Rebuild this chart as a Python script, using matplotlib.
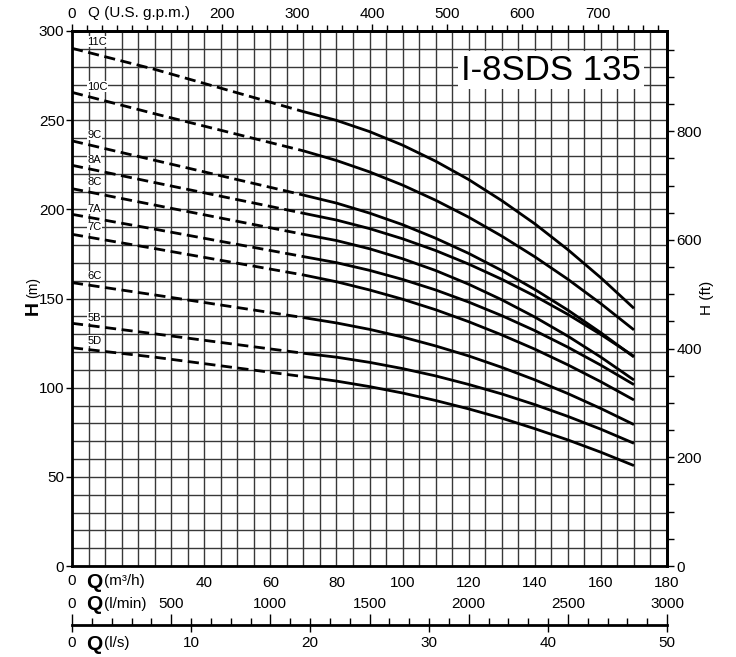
import numpy as np
import matplotlib
matplotlib.use("Agg")
import matplotlib.pyplot as plt
from matplotlib.ticker import MultipleLocator, NullFormatter
from matplotlib.transforms import blended_transform_factory

plt.rcParams['font.family'] = ['Liberation Sans', 'DejaVu Sans']

# ---------------- data ----------------
title = "I-8SDS 135"
models = ["11C", "10C", "9C", "8A", "8C", "7A", "7C", "6C", "5B", "5D"]
q_points = [0, 25, 70, 80, 90, 100, 110, 120, 130, 140, 150, 160, 170]   # m3/h
n_dashed = 3                                           # first points (0..70) drawn dashed
h_11C = [290.3, 278.5, 254.8, 249.9, 243.6, 236.0, 227.0, 216.7, 204.9, 191.9, 177.4, 161.6, 144.5]
h_10C = [265.6, 253.6, 232.8, 227.4, 221.0, 213.6, 205.1, 195.6, 185.0, 173.4, 160.8, 147.1, 132.4]
h_9C  = [238.4, 227.5, 208.0, 203.5, 197.9, 191.4, 183.8, 175.3, 165.7, 155.1, 143.5, 130.8, 117.2]
h_8A  = [224.7, 215.0, 197.8, 194.0, 189.2, 183.5, 176.9, 169.3, 160.8, 151.4, 141.1, 129.8, 117.6]
h_8C  = [211.6, 202.4, 186.0, 182.5, 177.9, 172.3, 165.7, 158.0, 149.3, 139.6, 128.9, 117.1, 104.3]
h_7A  = [197.2, 188.9, 173.5, 170.1, 165.8, 160.7, 154.8, 148.0, 140.4, 132.0, 122.7, 112.6, 101.7]
h_7C  = [186.0, 178.0, 163.2, 159.4, 154.8, 149.6, 143.7, 137.0, 129.6, 121.6, 112.8, 103.3, 93.1]
h_6C  = [158.9, 152.0, 139.3, 136.3, 132.7, 128.4, 123.4, 117.8, 111.4, 104.4, 96.7, 88.3, 79.3]
h_5B  = [136.1, 130.2, 119.3, 117.1, 114.2, 110.7, 106.6, 101.8, 96.5, 90.5, 83.9, 76.7, 68.8]
h_5D  = [122.4, 117.1, 106.2, 103.7, 100.6, 97.0, 92.8, 88.1, 82.9, 77.0, 70.7, 63.8, 56.3]
heads = [h_11C, h_10C, h_9C, h_8A, h_8C, h_7A, h_7C, h_6C, h_5B, h_5D]
label_q = 4.6
label_h = [294.1, 268.8, 241.7, 227.7, 215.3, 200.2, 189.9, 162.6, 139.3, 126.3]

m3h_ticks = [0, 20, 40, 60, 80, 100, 120, 140, 160, 180]
m3h_labels = ["", "", "40", "60", "80", "100", "120", "140", "160", "180"]
h_ticks = [0, 50, 100, 150, 200, 250, 300]
ft_ticks = [0, 200, 400, 600, 800]
gpm_ticks = [0, 200, 300, 400, 500, 600, 700]
lpm_labels = [500, 1000, 1500, 2000, 2500, 3000]
ls_ticks = [0, 10, 20, 30, 40, 50]

GPM = 0.2271247   # m3/h per US gpm
FT = 3.28084

W, H = 736, 657
fig = plt.figure(figsize=(W / 100, H / 100), dpi=100)

def fx(px):
    return px / W

def fy(py):
    return 1 - py / H

x0, x1, y0, y1 = 72, 667, 566, 31
ax = fig.add_axes([fx(x0), fy(y0), fx(x1) - fx(x0), fy(y1) - fy(y0)])
ax.set_xlim(0, 180)
ax.set_ylim(0, 300)

# grid
ax.xaxis.set_minor_locator(MultipleLocator(5))
ax.yaxis.set_minor_locator(MultipleLocator(10))
ax.set_xticks(m3h_ticks)
ax.set_xticklabels(m3h_labels)
ax.set_yticks(h_ticks)
ax.grid(which='both', color='0.22', lw=1.0)
ax.set_axisbelow(True)
ax.tick_params(axis='x', which='both', length=0, pad=7, labelsize=11)
ax.tick_params(axis='y', which='major', length=4, width=1, direction='out', pad=1.5, labelsize=11)
ax.tick_params(axis='y', which='minor', length=0)
for s in ax.spines.values():
    s.set_linewidth(2.0)
    s.set_color('black')

# curves
for name, h in zip(models, heads):
    ax.plot(q_points[:n_dashed], h[:n_dashed], color='black', lw=2.0,
            dashes=(4.0, 2.0), solid_capstyle='butt', zorder=3)
    ax.plot(q_points[n_dashed - 1:], h[n_dashed - 1:], color='black', lw=2.0,
            solid_capstyle='butt', solid_joinstyle='round', zorder=3)

for name, lh in zip(models, label_h):
    ax.text(label_q, lh, name, fontsize=8, ha='left', va='center', zorder=4,
            bbox=dict(facecolor='white', edgecolor='none', pad=0.2))

ax.text(0.805, 0.927, title, transform=ax.transAxes, fontsize=25, ha='center', va='center',
        zorder=5, bbox=dict(facecolor='white', edgecolor='none', pad=2))

# top axis: US gpm
top = ax.secondary_xaxis('top', functions=(lambda q: q / GPM, lambda g: g * GPM))
top.set_xticks(gpm_ticks)
top.set_xticklabels([str(v) for v in gpm_ticks])
top.xaxis.set_minor_locator(MultipleLocator(20))
top.tick_params(which='major', length=5, width=1, pad=2, labelsize=11)
top.tick_params(which='minor', length=4, width=1)
top.spines['top'].set_linewidth(2.0)
fig.text(fx(88), fy(13), "Q (U.S. g.p.m.)", fontsize=11, ha='left', va='center')

# right axis: ft
right = ax.secondary_yaxis('right', functions=(lambda m: m * FT, lambda f: f / FT))
right.set_yticks(ft_ticks)
right.yaxis.set_minor_locator(MultipleLocator(50))
right.tick_params(which='major', length=5, width=1, pad=2, labelsize=11)
right.tick_params(which='minor', length=5, width=1)
right.spines['right'].set_linewidth(2.0)
fig.text(fx(707), fy(298), "H (ft)", fontsize=11, rotation=90, ha='center', va='center')

# left label
fig.text(fx(33), fy(308), "H", fontsize=14, fontweight='bold', rotation=90, ha='center', va='center')
fig.text(fx(33), fy(288), "(m)", fontsize=10, rotation=90, ha='center', va='center')

# bottom label rows
tr = blended_transform_factory(ax.transData, fig.transFigure)
def q_label_row(ypix, unit):
    fig.text(fx(72), fy(ypix), "0", fontsize=11, ha='center', va='center')
    fig.text(fx(86), fy(ypix + 1), "Q", fontsize=15, fontweight='bold', ha='left', va='center')
    fig.text(fx(104), fy(ypix), unit, fontsize=11, ha='left', va='center')

q_label_row(581, "(m³/h)")
q_label_row(604, "(l/min)")
q_label_row(643, "(l/s)")
for v in lpm_labels:
    ax.text(v * 0.06, fy(604), str(v), transform=tr, fontsize=11, ha='center', va='center')

# l/s axis line with l/min ticks above
axs = fig.add_axes([fx(x0), fy(625), fx(x1) - fx(x0), 0.0005])
axs.set_xlim(0, 50)
axs.set_ylim(0, 1)
axs.patch.set_alpha(0)
for k in ['left', 'right', 'top']:
    axs.spines[k].set_visible(False)
axs.spines['bottom'].set_linewidth(2.0)
axs.set_yticks([])
axs.set_xticks(ls_ticks)
axs.set_xticklabels(["", "10", "20", "30", "40", "50"])
axs.tick_params(axis='x', length=5, width=1, pad=3, labelsize=11)
lpm = axs.secondary_xaxis(0, functions=(lambda s: s * 60, lambda m: m / 60))
lpm.xaxis.set_major_locator(MultipleLocator(500))
lpm.xaxis.set_minor_locator(MultipleLocator(100))
lpm.xaxis.set_major_formatter(NullFormatter())
lpm.tick_params(which='major', direction='in', length=8, width=1)
lpm.tick_params(which='minor', direction='in', length=5, width=1)
lpm.spines['bottom'].set_visible(False)

fig.savefig("out.png", dpi=100)
